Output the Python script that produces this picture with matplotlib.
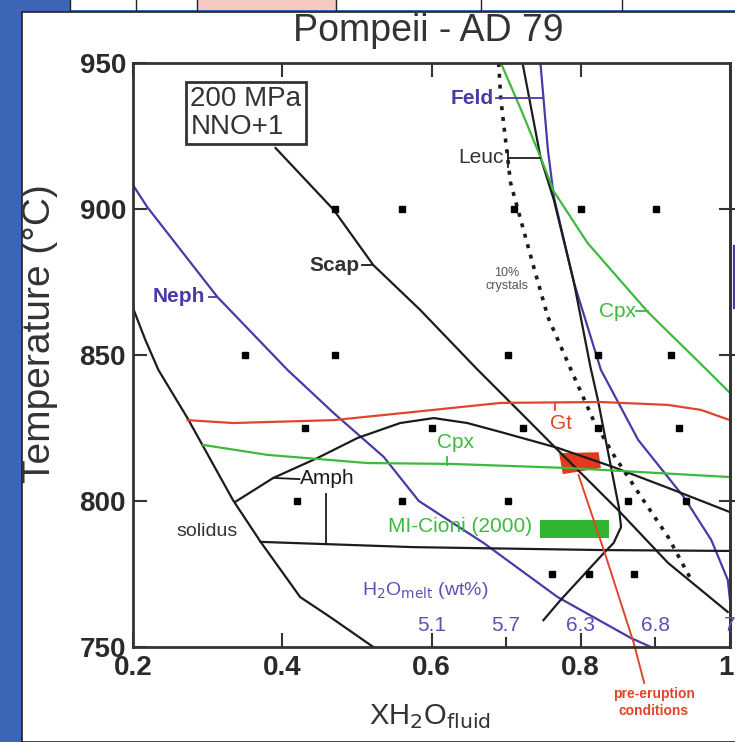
import matplotlib.pyplot as plt
from matplotlib.patches import Rectangle, Polygon
from matplotlib.transforms import ScaledTranslation

plt.rcParams['font.family'] = ['Liberation Sans', 'DejaVu Sans']
plt.rcParams['lines.solid_joinstyle'] = 'round'

BLUE = '#4a3aa8'
GREEN = '#3dba3d'
RED = '#e0452c'
BLACK = '#1c1c1c'
GREY = '#333333'

# experimental runs
run_x = [0.471, 0.561, 0.710, 0.800, 0.901,
         0.350, 0.471, 0.702, 0.823, 0.921,
         0.431, 0.601, 0.722, 0.823, 0.932,
         0.420, 0.561, 0.703, 0.863, 0.941,
         0.762, 0.811, 0.871]
run_t = [900, 900, 900, 900, 900,
         850, 850, 850, 850, 850,
         825, 825, 825, 825, 825,
         800, 800, 800, 800, 800,
         775, 775, 775]

# phase boundaries (XH2O fluid, T in C)
scap_x = [0.391, 0.469, 0.522, 0.585, 0.662, 0.720, 0.769, 0.850, 0.917, 0.997]
scap_t = [920.9, 899.7, 880.8, 865.4, 844.9, 830.1, 817.5, 796.9, 778.8, 762.0]

neph_x = [0.200, 0.219, 0.313, 0.407, 0.469, 0.536, 0.583, 0.670, 0.769, 0.867, 0.894]
neph_t = [908.2, 900.7, 869.9, 844.9, 830.1, 815.1, 800.0, 785.6, 767.1, 753.1, 750.0]

sol_x = [0.200, 0.216, 0.234, 0.273, 0.334, 0.371, 0.424, 0.464, 0.522]
sol_t = [866.1, 855.5, 844.9, 828.4, 800.3, 786.0, 767.1, 760.3, 750.0]

amph_x = [0.337, 0.388, 0.447, 0.501, 0.558, 0.603, 0.648, 0.693, 0.769, 0.844, 0.917, 1.000]
amph_t = [799.7, 807.9, 814.7, 821.6, 826.7, 828.4, 826.7, 823.6, 818.2, 811.6, 804.5, 796.2]

amph_low_x = [0.371, 0.576, 0.827, 1.000]
amph_low_t = [786.0, 784.2, 783.2, 782.9]

gt_x = [0.273, 0.334, 0.469, 0.576, 0.693, 0.827, 0.917, 0.961, 1.000]
gt_t = [827.7, 826.7, 827.7, 830.5, 833.6, 833.9, 832.9, 831.2, 827.7]

cpx_low_x = [0.294, 0.380, 0.514, 0.626, 0.783, 1.000]
cpx_low_t = [819.2, 815.8, 813.0, 812.7, 811.3, 808.2]

cpx_up_x = [0.693, 0.720, 0.746, 0.764, 0.809, 0.890, 0.965, 1.000]
cpx_up_t = [950.0, 934.0, 917.8, 906.0, 888.4, 864.7, 845.9, 837.0]

cryst_x = [0.690, 0.693, 0.706, 0.737, 0.756, 0.787, 0.817, 0.844, 0.881, 0.917, 0.948]
cryst_t = [950.0, 937.3, 908.9, 880.1, 863.0, 844.9, 827.7, 815.8, 801.4, 787.7, 773.0]

leuc_x = [0.722, 0.746, 0.764, 0.791, 0.813, 0.823, 0.836, 0.851, 0.854, 0.844, 0.831, 0.773, 0.750]
leuc_t = [950.0, 917.8, 903.1, 874.7, 845.9, 834.6, 817.5, 798.0, 791.1, 785.6, 782.2, 766.1, 759.2]

feld_x = [0.746, 0.756, 0.764, 0.791, 0.827, 0.877, 0.938, 0.975, 0.997, 1.000]
feld_t = [950.0, 920.2, 904.1, 874.7, 844.9, 820.9, 801.4, 786.6, 773.0, 766.1]

pre_x = [0.797, 0.834, 0.871, 0.885]
pre_t = [808.9, 780.8, 751.4, 737.7]

gt_box_x = [0.771, 0.824, 0.827, 0.776]
gt_box_t = [816.4, 816.7, 811.3, 809.2]

mi_x = [0.746, 0.838]
mi_t = [787.3, 793.5]

melt_pos = [0.6, 0.7, 0.8, 0.9, 1.0]
melt_lab = ['5.1', '5.7', '6.3', '6.8', '7']

fig = plt.figure(figsize=(7.35, 7.42), dpi=100, facecolor='#3d65b5')
fig.patches.append(Rectangle((22 / 735, 0), 1, 1 - 12 / 742, transform=fig.transFigure,
                             facecolor='white', edgecolor='#222222', lw=1.2, zorder=-5))
fig.patches.append(Rectangle((70 / 735, 1 - 10 / 742), 1, 10 / 742, transform=fig.transFigure,
                             facecolor='white', edgecolor='none', zorder=-5))
fig.patches.append(Rectangle((197 / 735, 1 - 10 / 742), 139 / 735, 10 / 742, transform=fig.transFigure,
                             facecolor='#f4c9c0', edgecolor='none', zorder=-5))
for xp in [70, 136, 197, 336, 481, 622]:
    fig.lines.append(plt.Line2D([xp / 735, xp / 735], [1 - 10 / 742, 1], transform=fig.transFigure,
                                color='#222222', lw=1, zorder=-4))

ax = fig.add_axes([133 / 735, 1 - 647 / 742, 597 / 735, 584 / 742])
ax.set_zorder(2)
ax.patch.set_alpha(0)
ax.set_xlim(0.2, 1.0)
ax.set_ylim(750, 950)

lw = 1.6
ax.plot(neph_x, neph_t, color=BLUE, lw=lw)
ax.plot(feld_x, feld_t, color=BLUE, lw=lw)
ax.plot([1.006, 1.006], [887.5, 866.0], color=BLUE, lw=lw, clip_on=False)
ax.plot(sol_x, sol_t, color=BLACK, lw=lw)
ax.plot(scap_x, scap_t, color=BLACK, lw=lw)
ax.plot(amph_x, amph_t, color=BLACK, lw=lw)
ax.plot(amph_low_x, amph_low_t, color=BLACK, lw=lw)
ax.plot(leuc_x, leuc_t, color=BLACK, lw=lw)
ax.plot(cryst_x, cryst_t, color=BLACK, lw=2.6, ls=(0, (1.1, 1.9)))
ax.plot(gt_x, gt_t, color=RED, lw=lw)
ax.plot(cpx_low_x, cpx_low_t, color=GREEN, lw=lw)
ax.plot(cpx_up_x, cpx_up_t, color=GREEN, lw=lw)
ax.plot(pre_x, pre_t, color=RED, lw=1.4, clip_on=False)

ax.add_patch(Polygon(list(zip(gt_box_x, gt_box_t)), closed=True, facecolor='#e23a1e', edgecolor='none'))
ax.add_patch(Rectangle((mi_x[0], mi_t[0]), mi_x[1] - mi_x[0], mi_t[1] - mi_t[0],
                       facecolor='#2fb52f', edgecolor='none'))

ax.plot(run_x, run_t, ls='none', marker='s', ms=5, color='black', zorder=5)

# label ticks
ax.plot([0.302, 0.313], [869.9, 869.9], color=BLUE, lw=1.3)
ax.text(0.297, 869.9, 'Neph', color=BLUE, fontsize=15, ha='right', va='center', fontweight='bold')
ax.plot([0.507, 0.522], [880.8, 880.8], color=BLACK, lw=1.3)
ax.text(0.503, 880.8, 'Scap', color=GREY, fontsize=15, ha='right', va='center', fontweight='bold')
ax.plot([0.686, 0.750], [938.0, 938.0], color=BLUE, lw=1.3)
ax.text(0.684, 938.0, 'Feld', color=BLUE, fontsize=15, ha='right', va='center', fontweight='bold')
ax.plot([0.702, 0.746], [917.5, 917.5], color=BLACK, lw=1.3)
ax.plot([0.702, 0.702], [920.0, 914.5], color=BLACK, lw=1.3)
ax.text(0.697, 917.5, 'Leuc', color=GREY, fontsize=15, ha='right', va='center')
ax.plot([0.874, 0.890], [865.0, 865.0], color=GREEN, lw=1.3)
ax.text(0.874, 865.0, 'Cpx', color=GREEN, fontsize=15, ha='right', va='center')
ax.plot([0.621, 0.621], [815.0, 812.5], color=GREEN, lw=1.3)
ax.text(0.632, 820.0, 'Cpx', color=GREEN, fontsize=15, ha='center', va='center')
ax.plot([0.766, 0.766], [833.7, 831.2], color=RED, lw=1.3)
ax.text(0.773, 826.5, 'Gt', color=RED, fontsize=15, ha='center', va='center')
ax.plot([0.388, 0.423], [807.9, 807.5], color=BLACK, lw=1.3)
ax.plot([0.458, 0.458], [802.5, 785.3], color=BLACK, lw=1.3)
ax.text(0.424, 807.6, 'Amph', color=BLACK, fontsize=15, ha='left', va='center')
ax.text(0.299, 789.4, 'solidus', color=GREY, fontsize=14, ha='center', va='center')
ax.text(0.735, 791.1, 'MI-Cioni (2000)', color=GREEN, fontsize=15, ha='right', va='center')
ax.text(0.701, 876.0, '10%\ncrystals', color='#555555', fontsize=9, ha='center', va='center',
        linespacing=1.1)
ax.text(0.592, 769.5, 'H$_2$O$_{\\rm melt}$ (wt%)', color='#5a52b5', fontsize=14,
        ha='center', va='center')
for p, lab in zip(melt_pos, melt_lab):
    ax.text(p, 757.5, lab, color='#5a52b5', fontsize=15, ha='center', va='center', clip_on=False)
ax.text(0.898, 731.0, 'pre-eruption\nconditions', color=RED, fontsize=10, ha='center', va='center',
        fontweight='bold', linespacing=1.2)

ax.text(0.277, 932.9, '200 MPa\nNNO+1', color=GREY, fontsize=20, ha='left', va='center',
        linespacing=1.1,
        bbox=dict(boxstyle='square,pad=0.15', facecolor='white', edgecolor=GREY, lw=2))

# axes styling
ax.set_xticks([0.2, 0.4, 0.6, 0.8, 1.0])
ax.set_xticklabels(['0.2', '0.4', '0.6', '0.8', '1'])
ax.set_xticks([0.7, 0.9], minor=True)
ax.set_yticks([750, 800, 850, 900, 950])
ax.tick_params(axis='x', which='major', direction='in', length=10, width=1.5, top=True,
               labelsize=20, pad=6, colors=GREY)
ax.tick_params(axis='x', which='minor', direction='in', length=7, width=1.5, top=False,
               colors=GREY)
ax.tick_params(axis='y', which='major', direction='in', length=10, width=1.5,
               labelsize=20, pad=5, colors=GREY)
for lab in ax.get_xticklabels() + ax.get_yticklabels():
    lab.set_fontweight('bold')
    lab.set_color('#2a2a2a')
last = ax.get_xticklabels()[-1]
last.set_transform(last.get_transform() + ScaledTranslation(-4 / 100, 0, fig.dpi_scale_trans))
axr = ax.secondary_yaxis('right')
axr.set_yticks([800, 850, 900])
axr.tick_params(direction='inout', length=16, width=1.5, labelright=False, colors=GREY)
for s in ax.spines.values():
    s.set_linewidth(2)
    s.set_color(GREY)
axr.spines['right'].set_linewidth(2)
axr.spines['right'].set_color(GREY)

fig.text(0.582, 1 - 31 / 742, 'Pompeii - AD 79', fontsize=27, color=GREY, ha='center', va='center')
fig.text(0.055, 1 - 334 / 742, 'Temperature (\u00b0C)', fontsize=28, color=GREY, rotation=90,
         ha='center', va='center')
fig.text(0.585, 1 - 717 / 742, 'XH$_2$O$_{\\rm fluid}$', fontsize=21, color=GREY,
         ha='center', va='center')

fig.savefig('out.png', dpi=100, facecolor=fig.get_facecolor())
